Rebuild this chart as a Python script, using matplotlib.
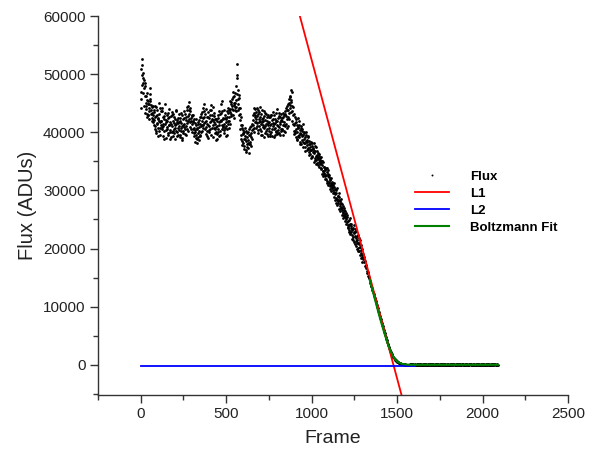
import numpy as np
import matplotlib
matplotlib.use('Agg')
import matplotlib.pyplot as plt
from matplotlib.ticker import MultipleLocator

plt.rcParams['font.family'] = ['Liberation Sans', 'DejaVu Sans']

# flux readings (kADU), one every 3 frames starting at frame 0
flux_k = [
    44.2, 47.0, 52.6, 49.8, 48.5, 50.2, 47.6, 49.0, 46.3, 48.4, 45.1, 44.0, 45.6, 43.2, 44.8, 42.9, 43.6, 44.9, 47.6, 45.8, 43.1, 42.4, 44.3, 43.0, 41.8,
    43.5, 42.1, 44.6, 41.0, 42.8, 40.2, 43.9, 41.6, 42.4, 39.3, 43.2, 41.9, 44.1, 40.7, 42.0, 41.3, 43.7, 40.5, 42.6, 41.1, 38.9, 42.3, 44.8, 41.5, 40.4,
    42.1, 40.6, 41.9, 43.4, 39.8, 41.3, 42.7, 40.1, 41.8, 39.2, 42.9, 41.0, 40.3, 43.1, 41.6, 39.9, 42.2, 40.8, 41.4, 43.9, 40.0, 41.7, 39.5, 42.5, 41.1,
    40.4, 42.0, 39.1, 41.6, 40.8, 42.9, 38.6, 41.2, 40.2, 42.4, 41.5, 39.7, 43.2, 41.0, 42.6, 40.5, 43.8, 41.9, 44.6, 42.3, 43.1, 40.9, 44.2, 42.0, 41.4,
    42.8, 40.6, 41.9, 39.8, 42.3, 40.1, 38.4, 41.2, 39.5, 40.7, 38.9, 41.8, 39.2, 40.3, 42.1, 39.6, 41.5, 40.0, 42.7, 41.3, 43.5, 40.8, 42.4, 44.9, 41.6,
    43.2, 40.5, 42.0, 39.7, 41.4, 40.2, 42.6, 39.0, 41.1, 40.4, 42.9, 41.8, 39.6, 43.8, 42.2, 44.4, 41.3, 40.7, 42.8, 39.9, 41.5, 40.1, 42.3, 38.8, 41.0,
    40.6, 42.4, 39.4, 41.7, 43.1, 40.3, 42.0, 44.9, 41.2, 43.6, 40.9, 42.5, 39.8, 41.4, 43.0, 40.7, 42.2, 41.1, 39.5, 42.7, 41.9, 43.4, 40.8, 42.6, 44.0,
    43.5, 45.2, 42.8, 44.6, 46.1, 43.9, 45.0, 42.4, 44.3, 46.8, 43.6, 45.5, 49.4, 51.7, 47.2, 44.8, 43.0, 45.9, 42.1, 44.2, 41.3, 39.6, 40.8, 38.5, 39.9,
    38.2, 40.1, 37.6, 39.4, 38.8, 36.9, 40.3, 38.0, 39.2, 37.3, 38.7, 40.6, 37.9, 39.5, 38.4, 41.0, 39.1, 40.4, 42.1, 41.2, 43.3, 40.7, 42.6, 44.0, 41.8,
    43.5, 41.1, 42.8, 40.4, 43.9, 42.3, 41.0, 44.4, 42.0, 40.2, 43.2, 41.7, 39.6, 42.5, 41.3, 43.6, 40.8, 42.1, 39.9, 41.5, 43.1, 40.6, 42.7, 41.2, 39.4,
    41.8, 40.3, 42.6, 39.7, 41.4, 43.0, 40.5, 42.2, 41.0, 39.2, 42.9, 40.7, 41.6, 43.4, 40.1, 42.0, 41.3, 39.8, 42.4, 40.9, 43.3, 41.5, 39.5, 42.1, 40.6,
    41.9, 40.4, 42.7, 39.6, 41.2, 42.9, 40.0, 43.6, 41.5, 44.2, 42.3, 43.8, 41.0, 44.9, 43.4, 45.8, 44.1, 46.3, 47.3, 45.2, 43.7, 42.0, 44.4, 41.3, 40.2,
    41.6, 39.8, 42.2, 40.5, 38.9, 41.3, 39.4, 40.8, 42.0, 39.1, 40.4, 38.3, 41.1, 39.7, 40.2, 38.6, 39.5, 41.4, 38.1, 39.9, 37.4, 39.2, 38.5, 40.1, 37.8,
    38.7, 37.2, 39.3, 36.6, 38.0, 37.5, 36.2, 38.4, 36.9, 37.7, 35.8, 37.1, 36.4, 38.1, 35.6, 36.8, 37.4, 35.2, 36.1, 34.7, 36.5, 35.4, 34.9, 36.0, 35.1,
    34.6, 35.8, 33.9, 35.0, 34.3, 33.4, 34.8, 32.9, 34.1, 33.6, 32.4, 33.9, 32.0, 33.2, 31.6, 32.8, 33.5, 31.2, 32.3, 31.8, 30.7, 32.1, 31.0, 30.4, 31.5,
    30.9, 29.8, 31.3, 29.4, 30.2, 28.7, 29.6, 30.4, 28.3, 29.1, 27.9, 28.8, 29.5, 27.4, 28.2, 27.0, 28.5, 26.6, 27.7, 26.2, 27.3, 26.9, 25.8, 26.5, 25.4,
    26.1, 25.0, 24.6, 25.5, 24.1, 23.7, 24.9, 23.2, 24.3, 22.8, 23.6, 24.2, 23.1, 22.4, 23.5, 24.0, 22.6, 23.3, 22.9, 21.8, 23.0, 22.1, 21.5, 22.4, 21.0,
    21.8, 20.9, 21.4, 20.2, 20.6, 19.7, 19.9, 18.8, 19.1, 18.2, 18.5, 17.6, 17.9, 17.0, 16.6, 17.1, 16.2, 15.8, 16.0, 15.3, 14.9, 15.1, 14.4, 14.0, 13.6,
    13.6, 13.2, 12.9, 12.5, 12.2, 11.9, 11.5, 11.3, 10.9, 10.6, 10.3, 9.9, 9.7, 9.3, 9.0, 8.7, 8.4, 8.1, 7.8, 7.5, 7.2, 6.9, 6.6, 6.3, 6.0,
    5.7, 5.4, 5.1, 4.8, 4.5, 4.2, 3.9, 3.6, 3.4, 3.1, 2.9, 2.6, 2.4, 2.2, 2.0, 1.8, 1.6, 1.4, 1.3, 1.1, 1.0, 0.9, 0.8, 0.7, 0.6,
    0.55, 0.5, 0.42, 0.38, 0.3, 0.28, 0.22, 0.2, 0.15, 0.14, 0.1, 0.12, 0.06, 0.08, 0.03, 0.05, 0.0, 0.04, -0.02, 0.02, 0.0, -0.03, 0.01, -0.02, 0.03,
    0.05, -0.08, 0.12, 0.02, -0.1, 0.09, -0.03, 0.14, -0.06, 0.04, 0.11, -0.12, 0.0, 0.07, -0.05, 0.13, -0.09, 0.03, 0.1, -0.02, 0.06, -0.11, 0.08, 0.01, -0.07,
    0.09, -0.04, 0.12, -0.1, 0.03, 0.07, -0.08, 0.15, 0.0, -0.06, 0.1, 0.04, -0.12, 0.08, -0.02, 0.11, -0.07, 0.05, 0.13, -0.09, 0.02, 0.06, -0.05, 0.1, -0.01,
    0.07, -0.11, 0.04, 0.12, -0.03, 0.08, -0.08, 0.01, 0.14, -0.05, 0.06, -0.1, 0.09, 0.02, -0.06, 0.11, -0.02, 0.05, -0.12, 0.08, 0.03, -0.07, 0.13, 0.0, -0.04,
    0.1, -0.06, 0.03, 0.12, -0.09, 0.05, 0.0, 0.14, -0.04, 0.07, -0.11, 0.09, 0.02, -0.07, 0.11, -0.01, 0.06, -0.1, 0.13, 0.04, -0.05, 0.08, -0.03, 0.1, 0.01,
    -0.08, 0.06, 0.11, -0.02, 0.09, -0.12, 0.04, 0.07, -0.06, 0.13, 0.0, -0.09, 0.1, 0.03, -0.04, 0.08, -0.11, 0.05, 0.12, -0.03, 0.07, -0.07, 0.02, 0.11, -0.05,
    0.04, 0.09, -0.1, 0.06, -0.02, 0.12, -0.07, 0.03, 0.1, -0.05, 0.08, -0.12, 0.01, 0.14, -0.04, 0.05, -0.08, 0.11, 0.0, -0.06, 0.09, 0.02, -0.1, 0.07, -0.03,
    0.12, -0.05, 0.06, 0.01, -0.09, 0.1, 0.03, -0.07, 0.13, -0.02, 0.08, -0.11, 0.05, 0.0, 0.09, -0.06, 0.11, -0.03, 0.04, -0.08, 0.07, 0.02,
]

# in-between readings (kADU), one every 3 frames starting at frame 1
flux_k_b = [
    45.8, 50.9, 48.2, 51.5, 46.7, 49.3, 44.6, 47.9, 43.4, 46.2, 44.5, 42.7, 46.8, 45.3, 43.0, 44.1, 42.3, 45.4, 46.6, 43.8, 44.7, 41.9, 43.4, 42.2, 44.5,
    41.2, 43.9, 40.6, 42.7, 44.3, 39.9, 41.5, 43.0, 40.8, 42.2, 45.1, 40.3, 41.8, 39.6, 43.6, 42.0, 40.9, 44.2, 41.4, 39.4, 42.8, 40.2, 43.3, 41.7, 39.0,
    43.0, 40.9, 39.6, 42.4, 41.2, 44.0, 40.4, 38.9, 42.8, 41.5, 40.0, 43.5, 39.4, 41.9, 40.6, 42.6, 38.8, 41.3, 43.7, 40.2, 42.1, 39.3, 41.6, 40.7, 43.2,
    41.7, 39.5, 42.5, 40.3, 43.4, 39.0, 41.1, 42.2, 39.8, 40.9, 43.7, 40.5, 42.1, 39.6, 44.3, 41.6, 42.8, 40.2, 43.9, 45.2, 41.7, 43.6, 42.4, 40.6, 42.9,
    40.1, 41.7, 43.0, 40.7, 39.3, 41.6, 40.4, 39.0, 42.3, 38.2, 40.6, 39.8, 41.4, 38.7, 40.9, 42.6, 39.3, 41.1, 43.2, 40.2, 42.0, 44.1, 41.3, 43.6, 42.7,
    41.8, 44.0, 40.9, 42.7, 39.4, 43.5, 41.2, 40.0, 42.5, 43.8, 40.6, 41.9, 44.7, 40.8, 43.0, 42.1, 39.2, 41.7, 43.4, 40.6, 42.2, 38.6, 40.9, 42.0, 39.7,
    42.9, 40.1, 41.3, 43.7, 39.6, 41.9, 43.3, 42.1, 45.3, 40.5, 42.2, 41.0, 43.8, 40.4, 42.4, 39.3, 41.8, 43.6, 40.6, 41.5, 44.2, 42.0, 43.9, 41.4, 45.4,
    44.9, 43.1, 45.8, 44.0, 42.9, 47.0, 44.7, 46.2, 43.8, 45.1, 47.9, 44.4, 46.6, 49.8, 45.7, 43.9, 46.4, 44.1, 43.2, 40.5, 42.6, 38.9, 41.2, 37.8, 40.4,
    39.7, 37.1, 38.9, 40.8, 36.6, 38.5, 39.8, 37.4, 40.0, 38.2, 36.5, 39.6, 38.0, 40.9, 37.7, 39.9, 41.5, 38.8, 40.6, 42.9, 40.0, 44.1, 41.7, 43.0, 42.2,
    40.8, 44.2, 41.6, 43.1, 39.9, 41.8, 43.5, 40.5, 42.7, 41.4, 39.5, 42.2, 43.8, 40.9, 41.9, 39.2, 42.8, 41.0, 43.3, 40.3, 42.0, 39.7, 41.6, 43.0, 40.7,
    42.7, 39.4, 41.2, 42.9, 40.0, 42.1, 39.3, 41.6, 43.5, 40.6, 41.4, 39.6, 42.3, 40.2, 41.9, 44.0, 39.7, 41.0, 40.4, 42.8, 39.9, 41.8, 42.6, 40.3, 43.2,
    40.6, 42.4, 41.3, 43.4, 40.3, 41.7, 43.1, 41.0, 42.8, 40.7, 44.5, 42.6, 43.9, 45.0, 42.2, 44.7, 46.0, 43.5, 45.5, 46.9, 44.6, 42.9, 41.4, 43.2, 39.7,
    40.3, 42.6, 39.2, 41.7, 40.0, 38.6, 40.9, 42.4, 39.6, 41.2, 38.0, 39.9, 40.7, 37.9, 39.3, 40.6, 38.4, 37.5, 40.0, 38.9, 36.8, 38.1, 39.6, 36.9, 38.4,
    37.3, 39.1, 36.1, 38.5, 36.9, 37.9, 35.6, 37.0, 38.2, 35.9, 37.3, 36.6, 34.9, 36.7, 37.6, 35.3, 36.0, 34.6, 35.8, 36.7, 34.3, 35.5, 36.2, 34.1, 35.6,
    35.2, 33.6, 34.7, 32.8, 35.1, 33.3, 32.5, 34.0, 33.0, 31.9, 33.5, 32.6, 33.8, 31.3, 32.4, 30.9, 32.6, 31.5, 30.3, 31.9, 31.1, 29.9, 31.3, 30.6, 29.5,
    30.1, 28.9, 30.6, 28.4, 29.5, 27.8, 30.0, 28.5, 27.5, 29.0, 28.1, 26.8, 28.3, 27.6, 26.4, 27.9, 26.9, 25.8, 27.0, 26.1, 25.3, 26.7, 25.6, 24.8, 26.0,
    25.4, 24.2, 25.8, 23.5, 24.7, 22.9, 24.0, 25.2, 22.5, 23.8, 22.9, 21.7, 23.4, 22.0, 21.4, 22.8, 21.2, 20.8, 22.1, 20.5, 21.3, 19.9, 20.9, 20.1, 19.5,
    20.8, 19.6, 20.2, 18.9, 19.3, 18.3, 18.6, 17.7,
]
frame_step = 3

# straight lines L1, L2 (end points)
l1_frame = [931, 1526]
l1_flux = [60000, -5200]
l2_frame = [0, 1604]
l2_flux = [-200, -200]

# Boltzmann fit curve
fit_frame = [1340, 1360, 1380, 1400, 1420, 1440, 1450, 1460, 1470, 1480, 1490, 1500, 1510,
             1520, 1530, 1540, 1560, 1580, 1600, 1700, 1800, 1900, 2000, 2090]
fit_flux = [14600, 12400, 10200, 8000, 6000, 4100, 3250, 2500, 1850, 1300, 900, 600, 400,
            250, 160, 100, 30, 0, 0, 0, 0, 0, 0, 0]

frames = np.concatenate([np.arange(len(flux_k)) * frame_step,
                         np.arange(len(flux_k_b)) * frame_step + 1])
flux = np.concatenate([flux_k, flux_k_b]) * 1000

fig = plt.figure(figsize=(5.93, 4.55), dpi=100)
ax = fig.add_axes([0.1653, 0.1319, 0.7925, 0.8329])

ax.plot(frames, flux, linestyle='none', marker='o', markersize=2.0, color='black',
        markeredgewidth=0, label='Flux')
ax.plot(l1_frame, l1_flux, color='#ff0000', lw=1.3, label='L1')
ax.plot(l2_frame, l2_flux, color='#0000ff', lw=1.3, label='L2')
ax.plot(fit_frame, fit_flux, color='#008000', lw=1.5, label='Boltzmann Fit')

ax.set_xlim(-250, 2500)
ax.set_ylim(-5200, 60000)
ax.xaxis.set_major_locator(MultipleLocator(500))
ax.xaxis.set_minor_locator(MultipleLocator(250))
ax.yaxis.set_major_locator(MultipleLocator(10000))
ax.yaxis.set_minor_locator(MultipleLocator(5000))

for s in ['top', 'right']:
    ax.spines[s].set_visible(False)
for s in ['left', 'bottom']:
    ax.spines[s].set_linewidth(1.0)
    ax.spines[s].set_color('#333333')
ax.tick_params(which='major', direction='out', length=5.5, width=1.0, color='#333333',
               labelsize=11, labelcolor='#222222')
ax.tick_params(which='minor', direction='out', length=3.5, width=1.0, color='#333333')

ax.set_xlabel('Frame', fontsize=14, color='#222222', labelpad=6)
ax.set_ylabel('Flux (ADUs)', fontsize=14.5, color='#222222', labelpad=4)

leg = ax.legend(loc='upper left', bbox_to_anchor=(0.649, 0.623), frameon=False,
                prop={'weight': 'bold', 'size': 9.5}, handlelength=2.6,
                labelspacing=0.35, handletextpad=1.6, markerscale=0.7)

fig.savefig('out.png', dpi=100)
plt.close(fig)
